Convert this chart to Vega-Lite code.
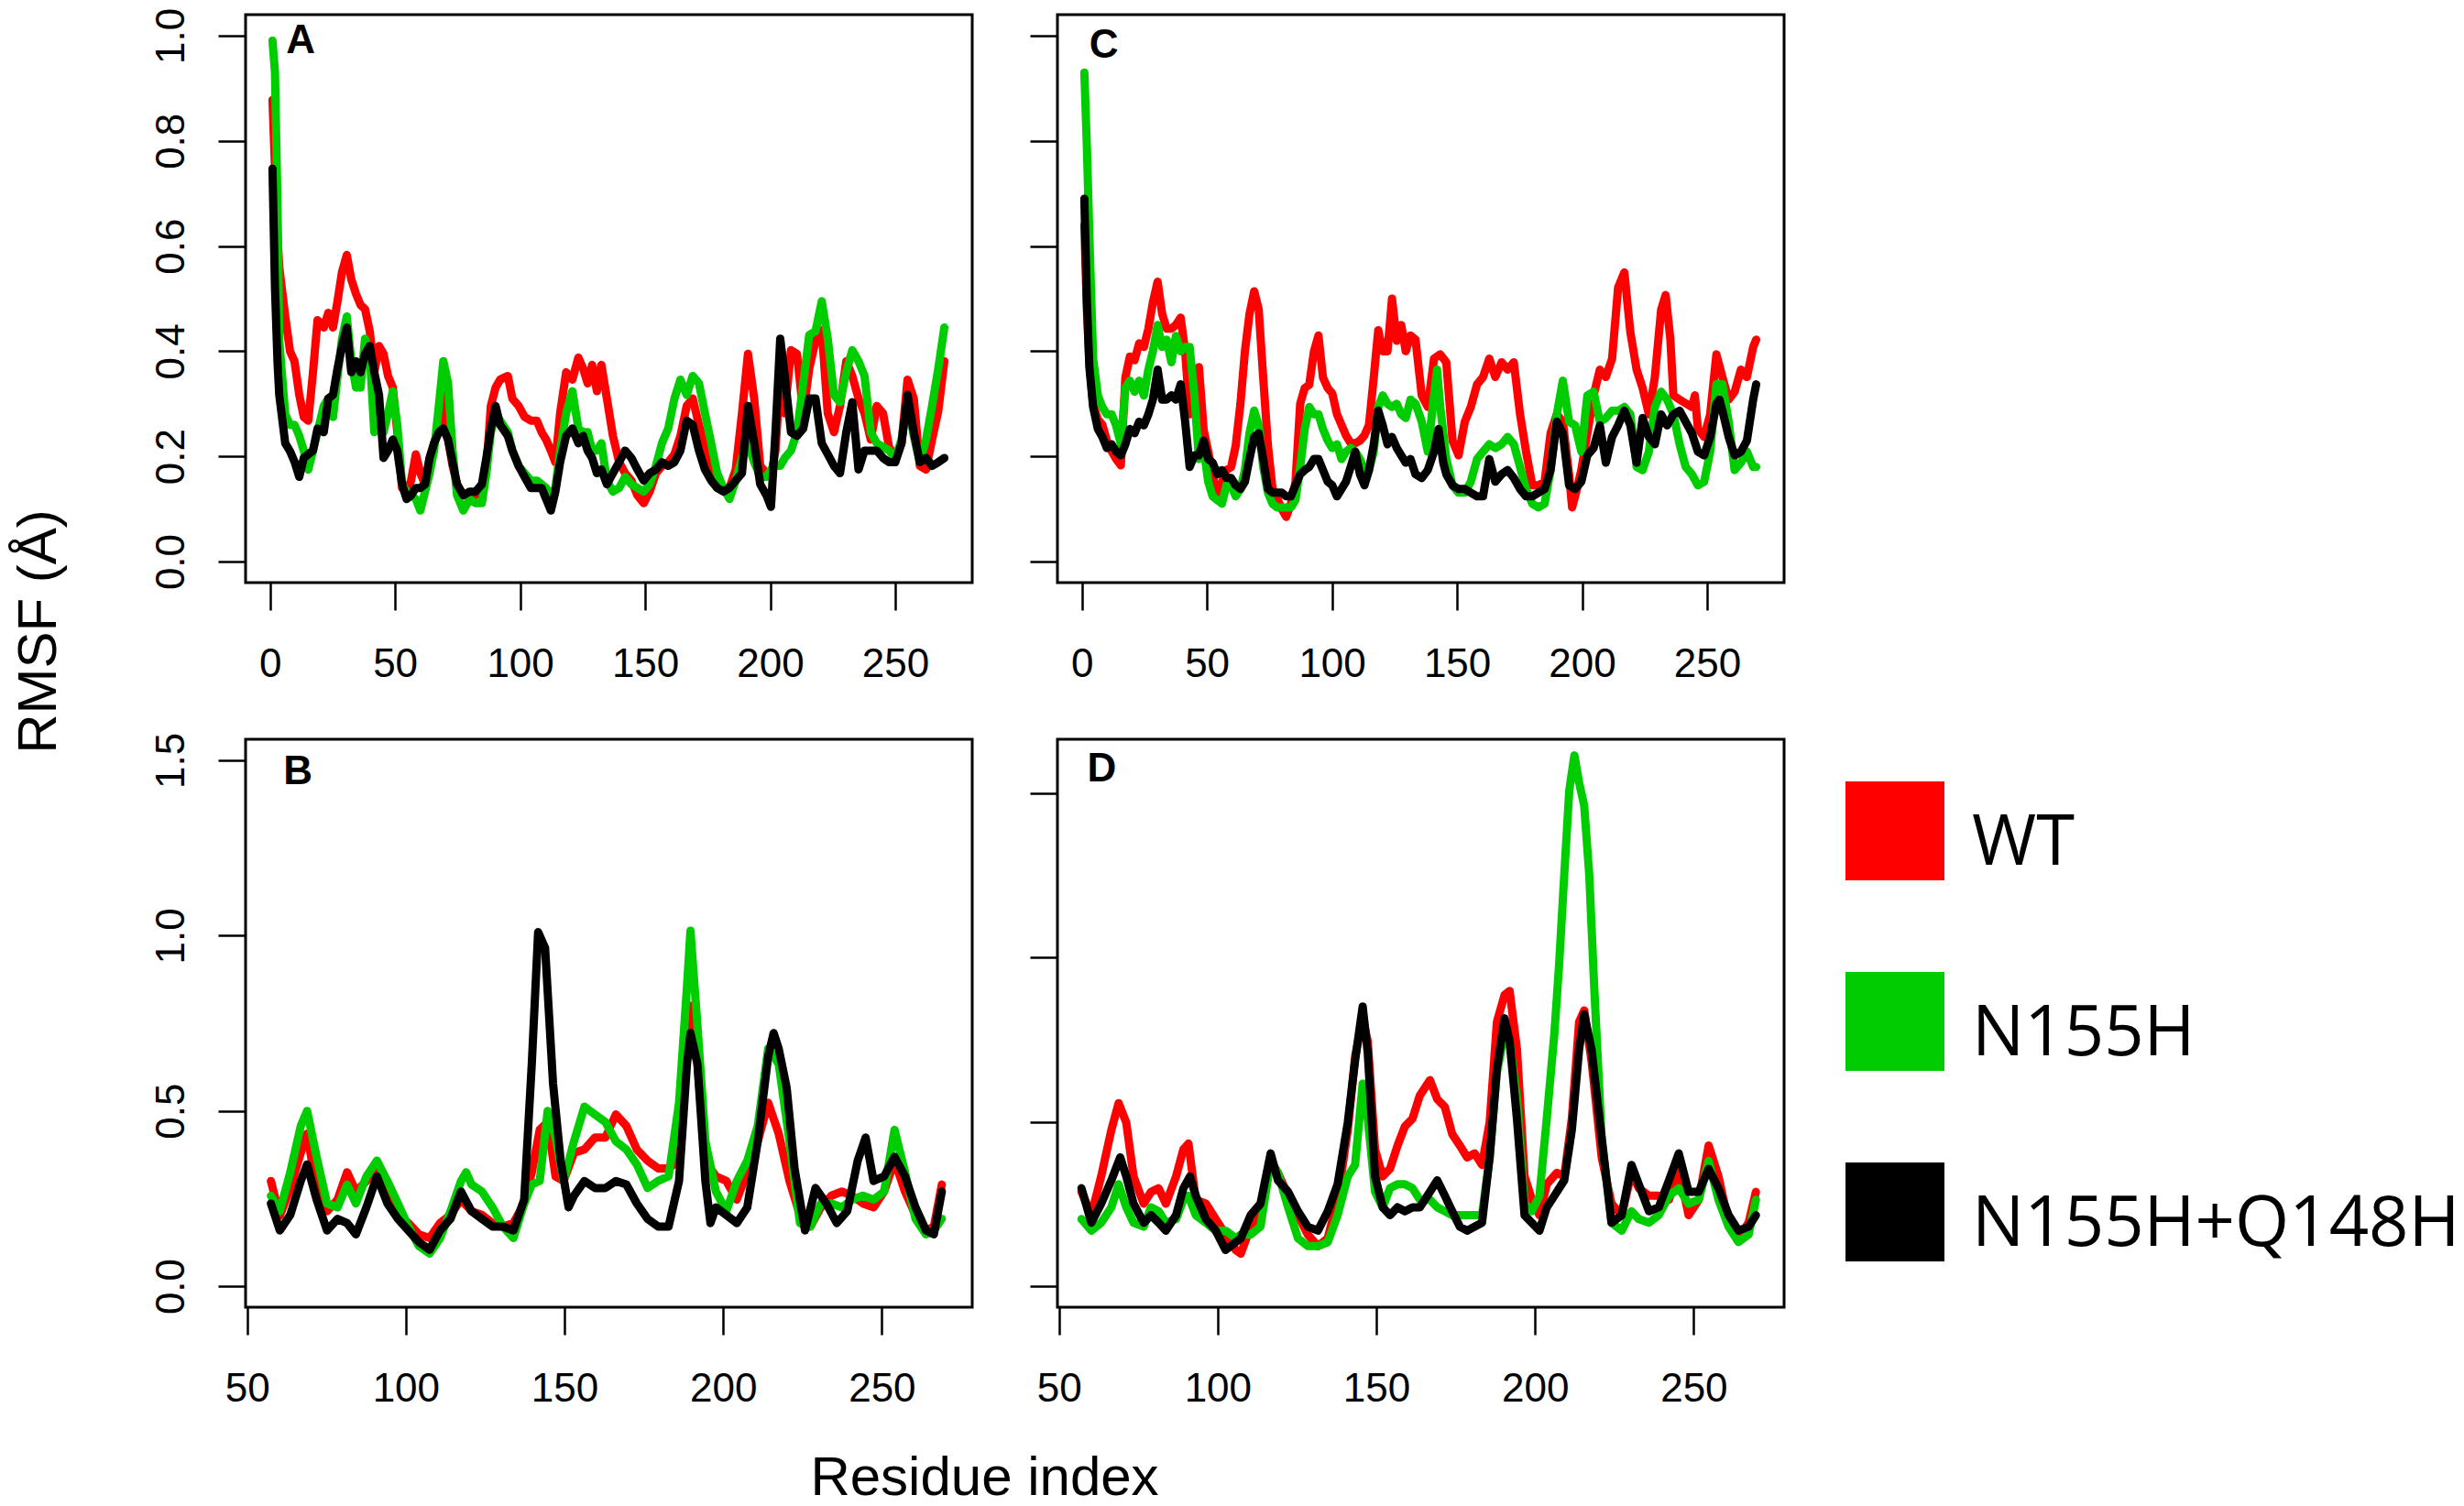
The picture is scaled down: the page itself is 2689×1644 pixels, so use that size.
{
  "$schema": "https://vega.github.io/schema/vega-lite/v6.json",
  "background": "white",
  "autosize": {"type": "pad"},
  "padding": {"left": 10, "top": 6, "right": 0, "bottom": 0},
  "datasets": {
    "A_WT": [
      {"x":1,"y":0.878},{"x":2,"y":0.75},{"x":3,"y":0.62},{"x":3.7,"y":0.56},{"x":6.1,"y":0.466},{"x":8,"y":0.40},{"x":9.8,"y":0.381},{"x":11.7,"y":0.317},{"x":13.5,"y":0.275},{"x":15.3,"y":0.268},{"x":17.2,"y":0.36},{"x":19,"y":0.459},{"x":21.5,"y":0.445},{"x":23.3,"y":0.473},{"x":25.2,"y":0.445},{"x":27,"y":0.495},{"x":28.8,"y":0.551},{"x":30.7,"y":0.583},{"x":32.5,"y":0.537},{"x":34.4,"y":0.509},{"x":36.2,"y":0.488},{"x":38,"y":0.48},{"x":39.9,"y":0.438},{"x":41.7,"y":0.36},{"x":43.6,"y":0.41},{"x":45.4,"y":0.395},{"x":47.2,"y":0.353},{"x":49.1,"y":0.331},{"x":50.9,"y":0.246},{"x":52.8,"y":0.14},{"x":54.6,"y":0.133},{"x":56.4,"y":0.154},{"x":58.3,"y":0.204},{"x":60.1,"y":0.168},{"x":62,"y":0.147},{"x":63.8,"y":0.197},{"x":65.6,"y":0.225},{"x":67.5,"y":0.253},{"x":69.3,"y":0.317},{"x":71.2,"y":0.232},{"x":73,"y":0.182},{"x":74.8,"y":0.147},{"x":77.3,"y":0.126},{"x":79.8,"y":0.126},{"x":82.2,"y":0.126},{"x":84.7,"y":0.133},{"x":86.5,"y":0.175},{"x":88.3,"y":0.296},{"x":90.2,"y":0.331},{"x":92,"y":0.346},{"x":95.1,"y":0.353},{"x":96.9,"y":0.31},{"x":99.4,"y":0.296},{"x":101.8,"y":0.275},{"x":104.3,"y":0.268},{"x":106.7,"y":0.268},{"x":108.6,"y":0.246},{"x":110.4,"y":0.232},{"x":112.3,"y":0.211},{"x":114.1,"y":0.189},{"x":116,"y":0.282},{"x":118.4,"y":0.36},{"x":120.9,"y":0.346},{"x":123.3,"y":0.388},{"x":125.2,"y":0.367},{"x":127,"y":0.339},{"x":128.8,"y":0.374},{"x":130.7,"y":0.324},{"x":132.5,"y":0.374},{"x":134.7,"y":0.31},{"x":137.1,"y":0.239},{"x":139.6,"y":0.189},{"x":142,"y":0.168},{"x":144.5,"y":0.154},{"x":146.9,"y":0.126},{"x":149.4,"y":0.111},{"x":151.8,"y":0.133},{"x":154.3,"y":0.168},{"x":156.7,"y":0.182},{"x":159.2,"y":0.189},{"x":161.7,"y":0.204},{"x":164.1,"y":0.239},{"x":166.6,"y":0.296},{"x":169,"y":0.31},{"x":171.5,"y":0.26},{"x":173.9,"y":0.218},{"x":176.4,"y":0.161},{"x":178.8,"y":0.14},{"x":181.3,"y":0.14},{"x":183.7,"y":0.14},{"x":186.2,"y":0.175},{"x":188.7,"y":0.282},{"x":191.1,"y":0.395},{"x":193.6,"y":0.31},{"x":196,"y":0.182},{"x":198.5,"y":0.168},{"x":200.3,"y":0.161},{"x":202.1,"y":0.211},{"x":204,"y":0.353},{"x":205.8,"y":0.282},{"x":208.3,"y":0.402},{"x":210.7,"y":0.395},{"x":213.2,"y":0.282},{"x":215.6,"y":0.367},{"x":218.1,"y":0.42},{"x":220.6,"y":0.44},{"x":223,"y":0.282},{"x":225.5,"y":0.246},{"x":227.9,"y":0.296},{"x":230.4,"y":0.381},{"x":232.8,"y":0.353},{"x":235.3,"y":0.31},{"x":237.7,"y":0.282},{"x":240.2,"y":0.232},{"x":242.6,"y":0.296},{"x":245.1,"y":0.282},{"x":247.5,"y":0.218},{"x":250,"y":0.197},{"x":252.5,"y":0.225},{"x":254.9,"y":0.346},{"x":257.4,"y":0.31},{"x":259.8,"y":0.182},{"x":262.3,"y":0.175},{"x":264.7,"y":0.232},{"x":267.2,"y":0.287},{"x":269.6,"y":0.381}
    ],
    "A_N": [
      {"x":1,"y":0.991},{"x":2,"y":0.93},{"x":3,"y":0.68},{"x":3.7,"y":0.42},{"x":6.1,"y":0.28},{"x":8,"y":0.26},{"x":9.8,"y":0.26},{"x":11.7,"y":0.239},{"x":13.5,"y":0.211},{"x":15.3,"y":0.175},{"x":17.2,"y":0.211},{"x":19,"y":0.246},{"x":21.5,"y":0.296},{"x":23.3,"y":0.31},{"x":25.2,"y":0.275},{"x":27,"y":0.353},{"x":28.8,"y":0.424},{"x":30.7,"y":0.466},{"x":32.5,"y":0.381},{"x":34.4,"y":0.331},{"x":36.2,"y":0.331},{"x":38,"y":0.424},{"x":39.9,"y":0.395},{"x":41.7,"y":0.246},{"x":43.6,"y":0.26},{"x":45.4,"y":0.246},{"x":47.2,"y":0.282},{"x":49.1,"y":0.324},{"x":50.9,"y":0.26},{"x":52.8,"y":0.147},{"x":54.6,"y":0.133},{"x":56.4,"y":0.126},{"x":58.3,"y":0.119},{"x":60.1,"y":0.097},{"x":62,"y":0.133},{"x":63.8,"y":0.168},{"x":65.6,"y":0.211},{"x":67.5,"y":0.296},{"x":69.3,"y":0.381},{"x":71.2,"y":0.339},{"x":73,"y":0.211},{"x":74.8,"y":0.126},{"x":77.3,"y":0.097},{"x":79.8,"y":0.119},{"x":82.2,"y":0.111},{"x":84.7,"y":0.111},{"x":86.5,"y":0.168},{"x":88.3,"y":0.246},{"x":90.2,"y":0.282},{"x":92,"y":0.268},{"x":95.1,"y":0.246},{"x":96.9,"y":0.211},{"x":99.4,"y":0.182},{"x":101.8,"y":0.168},{"x":104.3,"y":0.154},{"x":106.7,"y":0.154},{"x":108.6,"y":0.147},{"x":110.4,"y":0.14},{"x":112.3,"y":0.126},{"x":114.1,"y":0.14},{"x":116,"y":0.211},{"x":118.4,"y":0.282},{"x":120.9,"y":0.324},{"x":123.3,"y":0.253},{"x":125.2,"y":0.246},{"x":127,"y":0.246},{"x":128.8,"y":0.211},{"x":130.7,"y":0.211},{"x":132.5,"y":0.225},{"x":134.7,"y":0.154},{"x":137.1,"y":0.133},{"x":139.6,"y":0.14},{"x":142,"y":0.161},{"x":144.5,"y":0.147},{"x":146.9,"y":0.14},{"x":149.4,"y":0.133},{"x":151.8,"y":0.147},{"x":154.3,"y":0.182},{"x":156.7,"y":0.225},{"x":159.2,"y":0.253},{"x":161.7,"y":0.31},{"x":164.1,"y":0.346},{"x":166.6,"y":0.317},{"x":169,"y":0.353},{"x":171.5,"y":0.339},{"x":173.9,"y":0.282},{"x":176.4,"y":0.225},{"x":178.8,"y":0.168},{"x":181.3,"y":0.14},{"x":183.7,"y":0.119},{"x":186.2,"y":0.154},{"x":188.7,"y":0.197},{"x":191.1,"y":0.225},{"x":193.6,"y":0.189},{"x":196,"y":0.161},{"x":198.5,"y":0.161},{"x":200.3,"y":0.175},{"x":202.1,"y":0.182},{"x":204,"y":0.182},{"x":205.8,"y":0.197},{"x":208.3,"y":0.211},{"x":210.7,"y":0.246},{"x":213.2,"y":0.339},{"x":215.6,"y":0.431},{"x":218.1,"y":0.438},{"x":220.6,"y":0.495},{"x":223,"y":0.424},{"x":225.5,"y":0.317},{"x":227.9,"y":0.303},{"x":230.4,"y":0.36},{"x":232.8,"y":0.402},{"x":235.3,"y":0.381},{"x":237.7,"y":0.353},{"x":240.2,"y":0.246},{"x":242.6,"y":0.225},{"x":245.1,"y":0.218},{"x":247.5,"y":0.211},{"x":250,"y":0.197},{"x":252.5,"y":0.232},{"x":254.9,"y":0.303},{"x":257.4,"y":0.239},{"x":259.8,"y":0.189},{"x":262.3,"y":0.232},{"x":264.7,"y":0.296},{"x":267.2,"y":0.367},{"x":269.6,"y":0.445}
    ],
    "A_Q": [
      {"x":1,"y":0.747},{"x":2,"y":0.52},{"x":3,"y":0.38},{"x":3.7,"y":0.317},{"x":6.1,"y":0.225},{"x":8,"y":0.21},{"x":9.8,"y":0.19},{"x":11.7,"y":0.161},{"x":13.5,"y":0.197},{"x":15.3,"y":0.204},{"x":17.2,"y":0.211},{"x":19,"y":0.253},{"x":21.5,"y":0.246},{"x":23.3,"y":0.31},{"x":25.2,"y":0.317},{"x":27,"y":0.367},{"x":28.8,"y":0.41},{"x":30.7,"y":0.445},{"x":32.5,"y":0.36},{"x":34.4,"y":0.381},{"x":36.2,"y":0.36},{"x":38,"y":0.395},{"x":39.9,"y":0.41},{"x":41.7,"y":0.36},{"x":43.6,"y":0.317},{"x":45.4,"y":0.197},{"x":47.2,"y":0.211},{"x":49.1,"y":0.232},{"x":50.9,"y":0.211},{"x":52.8,"y":0.147},{"x":54.6,"y":0.119},{"x":56.4,"y":0.126},{"x":58.3,"y":0.14},{"x":60.1,"y":0.14},{"x":62,"y":0.147},{"x":63.8,"y":0.197},{"x":65.6,"y":0.225},{"x":67.5,"y":0.246},{"x":69.3,"y":0.253},{"x":71.2,"y":0.232},{"x":73,"y":0.189},{"x":74.8,"y":0.147},{"x":77.3,"y":0.126},{"x":79.8,"y":0.133},{"x":82.2,"y":0.133},{"x":84.7,"y":0.147},{"x":86.5,"y":0.197},{"x":88.3,"y":0.253},{"x":90.2,"y":0.296},{"x":92,"y":0.26},{"x":95.1,"y":0.239},{"x":96.9,"y":0.211},{"x":99.4,"y":0.182},{"x":101.8,"y":0.161},{"x":104.3,"y":0.14},{"x":106.7,"y":0.14},{"x":108.6,"y":0.14},{"x":110.4,"y":0.119},{"x":112.3,"y":0.097},{"x":114.1,"y":0.133},{"x":116,"y":0.189},{"x":118.4,"y":0.239},{"x":120.9,"y":0.253},{"x":123.3,"y":0.225},{"x":125.2,"y":0.239},{"x":127,"y":0.211},{"x":128.8,"y":0.197},{"x":130.7,"y":0.168},{"x":132.5,"y":0.175},{"x":134.7,"y":0.147},{"x":137.1,"y":0.168},{"x":139.6,"y":0.189},{"x":142,"y":0.211},{"x":144.5,"y":0.197},{"x":146.9,"y":0.175},{"x":149.4,"y":0.154},{"x":151.8,"y":0.168},{"x":154.3,"y":0.175},{"x":156.7,"y":0.189},{"x":159.2,"y":0.182},{"x":161.7,"y":0.189},{"x":164.1,"y":0.211},{"x":166.6,"y":0.268},{"x":169,"y":0.26},{"x":171.5,"y":0.211},{"x":173.9,"y":0.175},{"x":176.4,"y":0.154},{"x":178.8,"y":0.14},{"x":181.3,"y":0.133},{"x":183.7,"y":0.14},{"x":186.2,"y":0.154},{"x":188.7,"y":0.168},{"x":191.1,"y":0.296},{"x":193.6,"y":0.225},{"x":196,"y":0.147},{"x":198.5,"y":0.126},{"x":200.3,"y":0.104},{"x":202.1,"y":0.246},{"x":204,"y":0.424},{"x":205.8,"y":0.353},{"x":208.3,"y":0.246},{"x":210.7,"y":0.239},{"x":213.2,"y":0.253},{"x":215.6,"y":0.31},{"x":218.1,"y":0.31},{"x":220.6,"y":0.225},{"x":223,"y":0.204},{"x":225.5,"y":0.182},{"x":227.9,"y":0.168},{"x":230.4,"y":0.246},{"x":232.8,"y":0.303},{"x":235.3,"y":0.175},{"x":237.7,"y":0.211},{"x":240.2,"y":0.211},{"x":242.6,"y":0.211},{"x":245.1,"y":0.197},{"x":247.5,"y":0.189},{"x":250,"y":0.189},{"x":252.5,"y":0.225},{"x":254.9,"y":0.317},{"x":257.4,"y":0.246},{"x":259.8,"y":0.189},{"x":262.3,"y":0.197},{"x":264.7,"y":0.182},{"x":267.2,"y":0.189},{"x":269.6,"y":0.197}
    ],
    "C_WT": [
      {"x":1,"y":0.64},{"x":2,"y":0.48},{"x":3,"y":0.38},{"x":4.5,"y":0.30},{"x":6.4,"y":0.27},{"x":8.2,"y":0.26},{"x":10,"y":0.23},{"x":11.9,"y":0.21},{"x":13.7,"y":0.195},{"x":15.6,"y":0.183},{"x":17.4,"y":0.35},{"x":19.2,"y":0.39},{"x":21.1,"y":0.383},{"x":22.9,"y":0.415},{"x":24.8,"y":0.408},{"x":26.6,"y":0.443},{"x":28.4,"y":0.493},{"x":30.3,"y":0.532},{"x":32.1,"y":0.471},{"x":33.9,"y":0.443},{"x":35.8,"y":0.443},{"x":37.6,"y":0.45},{"x":39.5,"y":0.464},{"x":41.3,"y":0.40},{"x":43.1,"y":0.28},{"x":45,"y":0.36},{"x":46.8,"y":0.37},{"x":48.7,"y":0.25},{"x":50.5,"y":0.21},{"x":52.3,"y":0.166},{"x":54.2,"y":0.117},{"x":56,"y":0.15},{"x":57.8,"y":0.174},{"x":59.7,"y":0.18},{"x":61.5,"y":0.22},{"x":63.4,"y":0.30},{"x":65.2,"y":0.40},{"x":67,"y":0.47},{"x":68.9,"y":0.514},{"x":70.7,"y":0.48},{"x":72.5,"y":0.35},{"x":74.4,"y":0.22},{"x":76.2,"y":0.14},{"x":78.1,"y":0.12},{"x":79.9,"y":0.10},{"x":81.7,"y":0.085},{"x":83.6,"y":0.11},{"x":85.4,"y":0.15},{"x":87.3,"y":0.30},{"x":89.1,"y":0.33},{"x":90.9,"y":0.336},{"x":92.8,"y":0.40},{"x":94.6,"y":0.43},{"x":96.4,"y":0.35},{"x":98.3,"y":0.33},{"x":100.1,"y":0.32},{"x":102,"y":0.28},{"x":103.8,"y":0.26},{"x":105.6,"y":0.24},{"x":107.5,"y":0.225},{"x":109.3,"y":0.225},{"x":111.2,"y":0.23},{"x":113,"y":0.24},{"x":114.8,"y":0.26},{"x":116.7,"y":0.35},{"x":118.5,"y":0.44},{"x":120.3,"y":0.40},{"x":122.2,"y":0.40},{"x":124,"y":0.50},{"x":125.9,"y":0.42},{"x":127.7,"y":0.45},{"x":129.5,"y":0.40},{"x":131.4,"y":0.43},{"x":133.4,"y":0.422},{"x":135.9,"y":0.316},{"x":138.3,"y":0.294},{"x":140.8,"y":0.386},{"x":143.3,"y":0.394},{"x":145.7,"y":0.379},{"x":148.2,"y":0.23},{"x":150.6,"y":0.202},{"x":153.1,"y":0.266},{"x":155.5,"y":0.294},{"x":158,"y":0.337},{"x":160.4,"y":0.351},{"x":162.9,"y":0.386},{"x":165.3,"y":0.351},{"x":167.8,"y":0.379},{"x":170.2,"y":0.365},{"x":172.7,"y":0.379},{"x":175.2,"y":0.28},{"x":177.6,"y":0.209},{"x":180.1,"y":0.145},{"x":182.5,"y":0.145},{"x":185,"y":0.152},{"x":187.4,"y":0.244},{"x":189.9,"y":0.28},{"x":192.3,"y":0.266},{"x":194.8,"y":0.166},{"x":196,"y":0.103},{"x":197.2,"y":0.124},{"x":199.7,"y":0.174},{"x":202.1,"y":0.244},{"x":204.6,"y":0.316},{"x":207.1,"y":0.365},{"x":209.5,"y":0.351},{"x":212,"y":0.386},{"x":214.4,"y":0.521},{"x":216.9,"y":0.55},{"x":219.3,"y":0.436},{"x":221.8,"y":0.365},{"x":224.2,"y":0.33},{"x":226.7,"y":0.28},{"x":229.1,"y":0.351},{"x":231.6,"y":0.479},{"x":233.4,"y":0.507},{"x":235.3,"y":0.422},{"x":236.5,"y":0.316},{"x":239,"y":0.308},{"x":241.4,"y":0.301},{"x":243.9,"y":0.294},{"x":245.1,"y":0.316},{"x":246.3,"y":0.252},{"x":248.8,"y":0.237},{"x":251.2,"y":0.28},{"x":253.7,"y":0.394},{"x":256.1,"y":0.351},{"x":258.6,"y":0.308},{"x":261,"y":0.323},{"x":263.5,"y":0.365},{"x":265.9,"y":0.351},{"x":268.4,"y":0.408},{"x":269.6,"y":0.422}
    ],
    "C_N": [
      {"x":1,"y":0.93},{"x":2,"y":0.79},{"x":3,"y":0.62},{"x":4.5,"y":0.386},{"x":6.4,"y":0.316},{"x":8.2,"y":0.294},{"x":10,"y":0.28},{"x":11.9,"y":0.28},{"x":13.7,"y":0.259},{"x":15.6,"y":0.223},{"x":17.4,"y":0.33},{"x":19.2,"y":0.344},{"x":21.1,"y":0.323},{"x":22.9,"y":0.344},{"x":24.8,"y":0.316},{"x":26.6,"y":0.365},{"x":28.4,"y":0.40},{"x":30.3,"y":0.45},{"x":32.1,"y":0.408},{"x":33.9,"y":0.422},{"x":35.8,"y":0.379},{"x":37.6,"y":0.429},{"x":39.5,"y":0.40},{"x":41.3,"y":0.408},{"x":43.1,"y":0.408},{"x":45,"y":0.316},{"x":46.8,"y":0.195},{"x":48.7,"y":0.216},{"x":50.5,"y":0.152},{"x":52.3,"y":0.124},{"x":54.2,"y":0.117},{"x":56,"y":0.11},{"x":57.8,"y":0.145},{"x":59.7,"y":0.145},{"x":61.5,"y":0.124},{"x":63.4,"y":0.138},{"x":65.2,"y":0.174},{"x":67,"y":0.244},{"x":68.9,"y":0.287},{"x":70.7,"y":0.259},{"x":72.5,"y":0.18},{"x":74.4,"y":0.131},{"x":76.2,"y":0.11},{"x":78.1,"y":0.103},{"x":79.9,"y":0.103},{"x":81.7,"y":0.103},{"x":83.6,"y":0.103},{"x":85.4,"y":0.117},{"x":87.3,"y":0.18},{"x":89.1,"y":0.252},{"x":90.9,"y":0.294},{"x":92.8,"y":0.28},{"x":94.6,"y":0.28},{"x":96.4,"y":0.252},{"x":98.3,"y":0.23},{"x":100.1,"y":0.216},{"x":102,"y":0.223},{"x":103.8,"y":0.195},{"x":105.6,"y":0.209},{"x":107.5,"y":0.216},{"x":109.3,"y":0.209},{"x":111.2,"y":0.195},{"x":113,"y":0.174},{"x":114.8,"y":0.174},{"x":116.7,"y":0.209},{"x":118.5,"y":0.294},{"x":120.3,"y":0.316},{"x":122.2,"y":0.30},{"x":124,"y":0.294},{"x":125.9,"y":0.30},{"x":127.7,"y":0.28},{"x":129.5,"y":0.273},{"x":131.4,"y":0.308},{"x":133.4,"y":0.30},{"x":135.9,"y":0.266},{"x":138.3,"y":0.209},{"x":140.8,"y":0.316},{"x":142,"y":0.365},{"x":143.3,"y":0.294},{"x":145.7,"y":0.195},{"x":148.2,"y":0.145},{"x":150.6,"y":0.131},{"x":153.1,"y":0.131},{"x":155.5,"y":0.152},{"x":158,"y":0.195},{"x":160.4,"y":0.209},{"x":162.9,"y":0.223},{"x":165.3,"y":0.216},{"x":167.8,"y":0.223},{"x":170.2,"y":0.237},{"x":172.7,"y":0.223},{"x":175.2,"y":0.18},{"x":177.6,"y":0.138},{"x":180.1,"y":0.11},{"x":182.5,"y":0.103},{"x":185,"y":0.11},{"x":187.4,"y":0.174},{"x":189.9,"y":0.28},{"x":192.3,"y":0.344},{"x":194.8,"y":0.266},{"x":197.2,"y":0.259},{"x":199.7,"y":0.209},{"x":202.1,"y":0.316},{"x":204.6,"y":0.323},{"x":207.1,"y":0.266},{"x":209.5,"y":0.273},{"x":212,"y":0.287},{"x":214.4,"y":0.287},{"x":216.9,"y":0.294},{"x":219.3,"y":0.28},{"x":221.8,"y":0.18},{"x":224.2,"y":0.174},{"x":226.7,"y":0.209},{"x":229.1,"y":0.294},{"x":231.6,"y":0.323},{"x":234,"y":0.308},{"x":236.5,"y":0.28},{"x":239,"y":0.223},{"x":241.4,"y":0.18},{"x":243.9,"y":0.166},{"x":246.3,"y":0.145},{"x":248.8,"y":0.152},{"x":251.2,"y":0.209},{"x":253.7,"y":0.337},{"x":256.1,"y":0.337},{"x":258.6,"y":0.266},{"x":261,"y":0.174},{"x":263.5,"y":0.188},{"x":265.9,"y":0.209},{"x":268.4,"y":0.18},{"x":269.6,"y":0.18}
    ],
    "C_Q": [
      {"x":1,"y":0.69},{"x":2,"y":0.50},{"x":3,"y":0.37},{"x":4.5,"y":0.294},{"x":6.4,"y":0.252},{"x":8.2,"y":0.237},{"x":10,"y":0.216},{"x":11.9,"y":0.223},{"x":13.7,"y":0.209},{"x":15.6,"y":0.202},{"x":17.4,"y":0.223},{"x":19.2,"y":0.252},{"x":21.1,"y":0.244},{"x":22.9,"y":0.266},{"x":24.8,"y":0.259},{"x":26.6,"y":0.28},{"x":28.4,"y":0.308},{"x":30.3,"y":0.365},{"x":32.1,"y":0.308},{"x":33.9,"y":0.308},{"x":35.8,"y":0.316},{"x":37.6,"y":0.308},{"x":39.5,"y":0.337},{"x":41.3,"y":0.266},{"x":43.1,"y":0.18},{"x":45,"y":0.202},{"x":46.8,"y":0.202},{"x":48.7,"y":0.23},{"x":50.5,"y":0.195},{"x":52.3,"y":0.188},{"x":54.2,"y":0.166},{"x":56,"y":0.174},{"x":57.8,"y":0.159},{"x":59.7,"y":0.159},{"x":61.5,"y":0.145},{"x":63.4,"y":0.138},{"x":65.2,"y":0.152},{"x":67,"y":0.195},{"x":68.9,"y":0.237},{"x":70.7,"y":0.244},{"x":72.5,"y":0.195},{"x":74.4,"y":0.138},{"x":76.2,"y":0.131},{"x":78.1,"y":0.131},{"x":79.9,"y":0.131},{"x":81.7,"y":0.124},{"x":83.6,"y":0.124},{"x":85.4,"y":0.145},{"x":87.3,"y":0.166},{"x":89.1,"y":0.174},{"x":90.9,"y":0.18},{"x":92.8,"y":0.195},{"x":94.6,"y":0.195},{"x":96.4,"y":0.174},{"x":98.3,"y":0.152},{"x":100.1,"y":0.145},{"x":102,"y":0.124},{"x":103.8,"y":0.138},{"x":105.6,"y":0.152},{"x":107.5,"y":0.18},{"x":109.3,"y":0.209},{"x":111.2,"y":0.166},{"x":113,"y":0.145},{"x":114.8,"y":0.174},{"x":116.7,"y":0.223},{"x":118.5,"y":0.287},{"x":120.3,"y":0.259},{"x":122.2,"y":0.223},{"x":124,"y":0.237},{"x":125.9,"y":0.216},{"x":127.7,"y":0.202},{"x":129.5,"y":0.188},{"x":131.4,"y":0.195},{"x":133.4,"y":0.166},{"x":135.9,"y":0.159},{"x":138.3,"y":0.174},{"x":140.8,"y":0.209},{"x":142.6,"y":0.252},{"x":144.5,"y":0.188},{"x":145.7,"y":0.166},{"x":148.2,"y":0.145},{"x":150.6,"y":0.138},{"x":153.1,"y":0.138},{"x":155.5,"y":0.131},{"x":158,"y":0.124},{"x":160.4,"y":0.124},{"x":162.9,"y":0.195},{"x":165.3,"y":0.152},{"x":167.8,"y":0.166},{"x":170.2,"y":0.174},{"x":172.7,"y":0.159},{"x":175.2,"y":0.138},{"x":177.6,"y":0.124},{"x":180.1,"y":0.124},{"x":182.5,"y":0.131},{"x":185,"y":0.138},{"x":187.4,"y":0.174},{"x":189.9,"y":0.266},{"x":192.3,"y":0.244},{"x":194.8,"y":0.145},{"x":197.2,"y":0.138},{"x":199.7,"y":0.152},{"x":202.1,"y":0.202},{"x":204.6,"y":0.216},{"x":207.1,"y":0.259},{"x":209.5,"y":0.188},{"x":212,"y":0.237},{"x":214.4,"y":0.259},{"x":216.9,"y":0.287},{"x":219.3,"y":0.259},{"x":221.8,"y":0.188},{"x":224.2,"y":0.273},{"x":226.7,"y":0.237},{"x":229.1,"y":0.223},{"x":231.6,"y":0.28},{"x":234,"y":0.259},{"x":236.5,"y":0.28},{"x":239,"y":0.287},{"x":241.4,"y":0.266},{"x":243.9,"y":0.244},{"x":246.3,"y":0.209},{"x":248.8,"y":0.202},{"x":251.2,"y":0.237},{"x":253.7,"y":0.30},{"x":254.9,"y":0.308},{"x":256.1,"y":0.287},{"x":258.6,"y":0.237},{"x":261,"y":0.202},{"x":263.5,"y":0.209},{"x":265.9,"y":0.23},{"x":268.4,"y":0.308},{"x":269.6,"y":0.337}
    ],
    "B_WT": [
      {"x":57.5,"y":0.30},{"x":60.3,"y":0.20},{"x":63.6,"y":0.28},{"x":66.9,"y":0.38},{"x":68.9,"y":0.435},{"x":71.9,"y":0.28},{"x":75.2,"y":0.214},{"x":78.5,"y":0.247},{"x":81.5,"y":0.325},{"x":84.3,"y":0.27},{"x":87.6,"y":0.30},{"x":90.9,"y":0.336},{"x":94.2,"y":0.258},{"x":97.5,"y":0.203},{"x":100.8,"y":0.18},{"x":104.1,"y":0.148},{"x":107.5,"y":0.137},{"x":110.8,"y":0.18},{"x":114.1,"y":0.203},{"x":117.4,"y":0.247},{"x":120.7,"y":0.214},{"x":124,"y":0.203},{"x":127.3,"y":0.18},{"x":130.6,"y":0.17},{"x":133.9,"y":0.18},{"x":137.3,"y":0.236},{"x":139.7,"y":0.325},{"x":142.2,"y":0.446},{"x":144.7,"y":0.468},{"x":147.2,"y":0.313},{"x":149.7,"y":0.30},{"x":153,"y":0.38},{"x":156.3,"y":0.39},{"x":159.6,"y":0.424},{"x":162.9,"y":0.424},{"x":166.2,"y":0.49},{"x":169.5,"y":0.457},{"x":172.8,"y":0.39},{"x":176.2,"y":0.358},{"x":179.5,"y":0.336},{"x":182.8,"y":0.336},{"x":186.1,"y":0.358},{"x":188.6,"y":0.667},{"x":189.7,"y":0.80},{"x":191.9,"y":0.634},{"x":194.4,"y":0.358},{"x":197.7,"y":0.313},{"x":201,"y":0.30},{"x":204.3,"y":0.247},{"x":207.6,"y":0.325},{"x":210.9,"y":0.413},{"x":214.2,"y":0.523},{"x":217.5,"y":0.435},{"x":220.9,"y":0.30},{"x":224.2,"y":0.203},{"x":227.5,"y":0.17},{"x":230.8,"y":0.225},{"x":234.1,"y":0.258},{"x":237.4,"y":0.27},{"x":240.7,"y":0.258},{"x":244,"y":0.236},{"x":247.4,"y":0.225},{"x":250.7,"y":0.27},{"x":254,"y":0.358},{"x":257.3,"y":0.27},{"x":260.6,"y":0.203},{"x":263.9,"y":0.159},{"x":266.4,"y":0.17},{"x":268.9,"y":0.29}
    ],
    "B_N": [
      {"x":57.5,"y":0.258},{"x":60.3,"y":0.214},{"x":63.6,"y":0.325},{"x":66.9,"y":0.457},{"x":68.9,"y":0.50},{"x":71.9,"y":0.369},{"x":75.2,"y":0.236},{"x":78.5,"y":0.225},{"x":81.5,"y":0.29},{"x":84.3,"y":0.236},{"x":87.6,"y":0.313},{"x":90.9,"y":0.358},{"x":94.2,"y":0.30},{"x":97.5,"y":0.236},{"x":100.8,"y":0.17},{"x":104.1,"y":0.115},{"x":107.5,"y":0.093},{"x":110.8,"y":0.137},{"x":114.1,"y":0.214},{"x":117.4,"y":0.30},{"x":119,"y":0.325},{"x":120.7,"y":0.29},{"x":124,"y":0.27},{"x":127.3,"y":0.225},{"x":130.6,"y":0.17},{"x":133.9,"y":0.137},{"x":137.3,"y":0.236},{"x":139.7,"y":0.29},{"x":142.2,"y":0.30},{"x":144.7,"y":0.50},{"x":147.2,"y":0.424},{"x":149.7,"y":0.30},{"x":153,"y":0.413},{"x":156.3,"y":0.512},{"x":159.6,"y":0.49},{"x":162.9,"y":0.468},{"x":166.2,"y":0.413},{"x":169.5,"y":0.39},{"x":172.8,"y":0.347},{"x":176.2,"y":0.28},{"x":179.5,"y":0.30},{"x":182.8,"y":0.313},{"x":186.1,"y":0.523},{"x":188.6,"y":0.854},{"x":189.7,"y":1.014},{"x":191.9,"y":0.744},{"x":194.4,"y":0.413},{"x":197.7,"y":0.27},{"x":201,"y":0.214},{"x":204.3,"y":0.30},{"x":207.6,"y":0.358},{"x":210.9,"y":0.457},{"x":214.2,"y":0.678},{"x":217.5,"y":0.634},{"x":220.9,"y":0.413},{"x":224.2,"y":0.18},{"x":227.5,"y":0.17},{"x":230.8,"y":0.236},{"x":234.1,"y":0.236},{"x":237.4,"y":0.225},{"x":240.7,"y":0.247},{"x":244,"y":0.258},{"x":247.4,"y":0.247},{"x":250.7,"y":0.27},{"x":254,"y":0.446},{"x":257.3,"y":0.325},{"x":260.6,"y":0.192},{"x":263.9,"y":0.148},{"x":266.4,"y":0.159},{"x":268.9,"y":0.192}
    ],
    "B_Q": [
      {"x":57.5,"y":0.236},{"x":60.3,"y":0.159},{"x":63.6,"y":0.203},{"x":66.9,"y":0.30},{"x":68.9,"y":0.347},{"x":71.9,"y":0.247},{"x":75.2,"y":0.159},{"x":78.5,"y":0.192},{"x":81.5,"y":0.18},{"x":84.3,"y":0.148},{"x":87.6,"y":0.225},{"x":90.9,"y":0.313},{"x":94.2,"y":0.236},{"x":97.5,"y":0.192},{"x":100.8,"y":0.159},{"x":104.1,"y":0.126},{"x":107.5,"y":0.104},{"x":110.8,"y":0.159},{"x":114.1,"y":0.192},{"x":117.4,"y":0.27},{"x":120.7,"y":0.214},{"x":124,"y":0.192},{"x":127.3,"y":0.17},{"x":130.6,"y":0.17},{"x":133.9,"y":0.159},{"x":137.3,"y":0.247},{"x":139.7,"y":0.634},{"x":141.7,"y":1.01},{"x":143.9,"y":0.965},{"x":146.4,"y":0.578},{"x":148.8,"y":0.358},{"x":151.3,"y":0.225},{"x":153,"y":0.258},{"x":156.3,"y":0.30},{"x":159.6,"y":0.28},{"x":162.9,"y":0.28},{"x":166.2,"y":0.30},{"x":169.5,"y":0.29},{"x":172.8,"y":0.236},{"x":176.2,"y":0.192},{"x":179.5,"y":0.17},{"x":182.8,"y":0.17},{"x":186.1,"y":0.30},{"x":188.6,"y":0.634},{"x":189.7,"y":0.722},{"x":191.9,"y":0.634},{"x":194.4,"y":0.30},{"x":196,"y":0.18},{"x":197.7,"y":0.225},{"x":201,"y":0.203},{"x":204.3,"y":0.18},{"x":207.6,"y":0.225},{"x":210.9,"y":0.413},{"x":214.2,"y":0.656},{"x":215.9,"y":0.722},{"x":217.5,"y":0.678},{"x":220,"y":0.567},{"x":222.5,"y":0.336},{"x":225.8,"y":0.159},{"x":229.1,"y":0.28},{"x":232.5,"y":0.236},{"x":235.8,"y":0.18},{"x":239.1,"y":0.214},{"x":242.4,"y":0.358},{"x":244.9,"y":0.424},{"x":247.4,"y":0.30},{"x":250.7,"y":0.313},{"x":254,"y":0.369},{"x":257.3,"y":0.313},{"x":260.6,"y":0.225},{"x":263.9,"y":0.159},{"x":266.4,"y":0.148},{"x":268.9,"y":0.27}
    ],
    "D_WT": [
      {"x":57.1,"y":0.287},{"x":60.2,"y":0.216},{"x":63.3,"y":0.334},{"x":66.5,"y":0.475},{"x":68.8,"y":0.557},{"x":71.2,"y":0.498},{"x":73.5,"y":0.334},{"x":76.7,"y":0.251},{"x":79,"y":0.287},{"x":81.4,"y":0.298},{"x":83.7,"y":0.251},{"x":86.9,"y":0.334},{"x":89.2,"y":0.416},{"x":90.8,"y":0.434},{"x":93.1,"y":0.263},{"x":96.3,"y":0.251},{"x":99.4,"y":0.204},{"x":102.5,"y":0.157},{"x":105.7,"y":0.11},{"x":107.3,"y":0.099},{"x":110.4,"y":0.181},{"x":113.5,"y":0.228},{"x":116.7,"y":0.381},{"x":119,"y":0.345},{"x":122.2,"y":0.275},{"x":125.3,"y":0.216},{"x":128.4,"y":0.157},{"x":131.6,"y":0.122},{"x":134.7,"y":0.146},{"x":137.8,"y":0.263},{"x":141,"y":0.475},{"x":143.3,"y":0.698},{"x":145.7,"y":0.815},{"x":147.3,"y":0.745},{"x":149.6,"y":0.416},{"x":152,"y":0.334},{"x":154.3,"y":0.357},{"x":156.7,"y":0.428},{"x":159,"y":0.486},{"x":161.4,"y":0.51},{"x":163.7,"y":0.58},{"x":166.9,"y":0.627},{"x":169.2,"y":0.569},{"x":171.6,"y":0.545},{"x":173.9,"y":0.463},{"x":176.3,"y":0.428},{"x":178.6,"y":0.392},{"x":181,"y":0.404},{"x":183.3,"y":0.369},{"x":185.7,"y":0.498},{"x":188,"y":0.804},{"x":190.4,"y":0.886},{"x":192,"y":0.898},{"x":194.3,"y":0.721},{"x":196.7,"y":0.334},{"x":199,"y":0.263},{"x":201.4,"y":0.216},{"x":203.7,"y":0.31},{"x":206.9,"y":0.345},{"x":209.2,"y":0.334},{"x":211.6,"y":0.51},{"x":213.9,"y":0.804},{"x":215.5,"y":0.839},{"x":217.8,"y":0.686},{"x":221,"y":0.392},{"x":224.1,"y":0.251},{"x":227.3,"y":0.216},{"x":230.4,"y":0.345},{"x":232.7,"y":0.298},{"x":235.9,"y":0.275},{"x":239,"y":0.275},{"x":242.2,"y":0.263},{"x":245.3,"y":0.357},{"x":248.4,"y":0.216},{"x":251.6,"y":0.263},{"x":254.7,"y":0.428},{"x":257.8,"y":0.334},{"x":261,"y":0.193},{"x":264.1,"y":0.146},{"x":267.3,"y":0.193},{"x":269.6,"y":0.287}
    ],
    "D_N": [
      {"x":57.1,"y":0.204},{"x":60.2,"y":0.169},{"x":63.3,"y":0.193},{"x":66.5,"y":0.24},{"x":68.8,"y":0.31},{"x":71.2,"y":0.24},{"x":73.5,"y":0.193},{"x":76.7,"y":0.181},{"x":79,"y":0.24},{"x":81.4,"y":0.228},{"x":83.7,"y":0.193},{"x":86.9,"y":0.204},{"x":89.2,"y":0.263},{"x":90.8,"y":0.275},{"x":93.1,"y":0.216},{"x":96.3,"y":0.193},{"x":99.4,"y":0.169},{"x":102.5,"y":0.169},{"x":105.7,"y":0.146},{"x":107.3,"y":0.157},{"x":110.4,"y":0.157},{"x":113.5,"y":0.181},{"x":116.7,"y":0.381},{"x":119,"y":0.345},{"x":122.2,"y":0.24},{"x":125.3,"y":0.146},{"x":128.4,"y":0.122},{"x":131.6,"y":0.122},{"x":134.7,"y":0.134},{"x":137.8,"y":0.216},{"x":141,"y":0.334},{"x":143.3,"y":0.369},{"x":145.7,"y":0.616},{"x":147.3,"y":0.51},{"x":149.6,"y":0.287},{"x":152,"y":0.24},{"x":154.3,"y":0.298},{"x":156.7,"y":0.31},{"x":159,"y":0.31},{"x":161.4,"y":0.298},{"x":163.7,"y":0.263},{"x":166.9,"y":0.263},{"x":169.2,"y":0.24},{"x":171.6,"y":0.228},{"x":173.9,"y":0.216},{"x":176.3,"y":0.216},{"x":178.6,"y":0.216},{"x":181,"y":0.216},{"x":183.3,"y":0.216},{"x":185.7,"y":0.392},{"x":188,"y":0.651},{"x":190.4,"y":0.769},{"x":192,"y":0.745},{"x":194.3,"y":0.569},{"x":196.7,"y":0.251},{"x":199,"y":0.228},{"x":201.4,"y":0.275},{"x":203.7,"y":0.51},{"x":206.1,"y":0.769},{"x":207.6,"y":0.98},{"x":209.2,"y":1.25},{"x":210.8,"y":1.509},{"x":212.4,"y":1.615},{"x":213.9,"y":1.532},{"x":215.5,"y":1.462},{"x":217.1,"y":1.25},{"x":218.6,"y":0.921},{"x":221,"y":0.451},{"x":224.1,"y":0.193},{"x":227.3,"y":0.169},{"x":230.4,"y":0.228},{"x":232.7,"y":0.204},{"x":235.9,"y":0.193},{"x":239,"y":0.216},{"x":242.2,"y":0.275},{"x":245.3,"y":0.298},{"x":248.4,"y":0.251},{"x":251.6,"y":0.263},{"x":254.7,"y":0.381},{"x":257.8,"y":0.263},{"x":261,"y":0.181},{"x":264.1,"y":0.134},{"x":267.3,"y":0.157},{"x":269.6,"y":0.263}
    ],
    "D_Q": [
      {"x":57.1,"y":0.298},{"x":60.2,"y":0.193},{"x":63.3,"y":0.251},{"x":66.5,"y":0.322},{"x":69.3,"y":0.392},{"x":71.2,"y":0.334},{"x":73.5,"y":0.251},{"x":76.7,"y":0.193},{"x":79,"y":0.216},{"x":81.4,"y":0.193},{"x":83.7,"y":0.169},{"x":86.9,"y":0.216},{"x":89.2,"y":0.298},{"x":91.3,"y":0.334},{"x":93.1,"y":0.275},{"x":96.3,"y":0.204},{"x":99.4,"y":0.169},{"x":102.5,"y":0.11},{"x":105.7,"y":0.134},{"x":107.3,"y":0.146},{"x":110.4,"y":0.216},{"x":113.5,"y":0.251},{"x":116.7,"y":0.404},{"x":119,"y":0.322},{"x":122.2,"y":0.287},{"x":125.3,"y":0.228},{"x":128.4,"y":0.181},{"x":131.6,"y":0.169},{"x":134.7,"y":0.228},{"x":137.8,"y":0.31},{"x":141,"y":0.498},{"x":143.3,"y":0.686},{"x":145.7,"y":0.851},{"x":147.3,"y":0.71},{"x":149.6,"y":0.334},{"x":152,"y":0.24},{"x":154.3,"y":0.216},{"x":156.7,"y":0.24},{"x":159,"y":0.228},{"x":161.4,"y":0.24},{"x":163.7,"y":0.24},{"x":166.9,"y":0.287},{"x":169.2,"y":0.322},{"x":171.6,"y":0.275},{"x":173.9,"y":0.228},{"x":176.3,"y":0.181},{"x":178.6,"y":0.169},{"x":181,"y":0.181},{"x":183.3,"y":0.193},{"x":185.7,"y":0.392},{"x":188,"y":0.663},{"x":190.4,"y":0.815},{"x":192,"y":0.745},{"x":194.3,"y":0.51},{"x":196.7,"y":0.216},{"x":199,"y":0.193},{"x":201.4,"y":0.169},{"x":203.7,"y":0.24},{"x":206.1,"y":0.275},{"x":209.2,"y":0.322},{"x":211.6,"y":0.475},{"x":213.9,"y":0.721},{"x":215.5,"y":0.827},{"x":217.8,"y":0.721},{"x":221,"y":0.451},{"x":224.1,"y":0.193},{"x":227.3,"y":0.216},{"x":230.4,"y":0.369},{"x":232.7,"y":0.31},{"x":235.9,"y":0.228},{"x":239,"y":0.24},{"x":242.2,"y":0.322},{"x":245.3,"y":0.404},{"x":248.4,"y":0.287},{"x":251.6,"y":0.287},{"x":254.7,"y":0.357},{"x":257.8,"y":0.298},{"x":261,"y":0.216},{"x":264.1,"y":0.169},{"x":267.3,"y":0.181},{"x":269.6,"y":0.216}
    ]
  },
  "columns": 2,
  "spacing": {"row": 171, "column": 93},
  "bounds": "flush",
  "concat": [
    {
      "width": 793, "height": 620,
      "encoding": {
        "x": {"field": "x", "type": "quantitative", "scale": {"domain": [-9.76, 280.76], "nice": false, "zero": false},
              "axis": {"title": null, "values": [0, 50, 100, 150, 200, 250]}},
        "y": {"field": "y", "type": "quantitative", "scale": {"domain": [-0.04, 1.04], "nice": false, "zero": false},
              "axis": {"values": [0, 0.2, 0.4, 0.6, 0.8, 1.0], "format": ".1f", "title": "RMSF (Å)",
                       "titleAngle": 270, "titleX": -208, "titleY": 673, "titleBaseline": "alphabetic", "titleAlign": "center"}}
      },
      "layer": [
        {"data": {"name": "A_WT"}, "mark": {"type": "line", "strokeWidth": 9, "strokeJoin": "round", "strokeCap": "round"},
         "encoding": {"color": {"datum": "WT", "type": "nominal",
           "scale": {"domain": ["WT", "N155H", "N155H+Q148H"], "range": ["#FF0000", "#00CD00", "#000000"]},
           "legend": {"orient": "none", "legendX": 1746, "legendY": 837, "title": null, "direction": "vertical",
             "symbolType": "square", "symbolSize": 11025, "symbolStrokeWidth": 3, "symbolStrokeColor": "black",
             "labelFont": "Open Sans", "labelFontSize": 76, "labelColor": "black", "labelLimit": 1000,
             "labelOffset": 30, "rowPadding": 90, "padding": 0,
             "encode": {"symbols": {"update": {"fill": {"scale": "color", "field": "value"}, "stroke": {"value": "black"}, "strokeWidth": {"value": 3}, "opacity": {"value": 1}, "fillOpacity": {"value": 1}}},
                        "labels": {"update": {"dy": {"value": 14}}}}}}}},
        {"data": {"name": "A_N"}, "mark": {"type": "line", "strokeWidth": 9, "strokeJoin": "round", "strokeCap": "round"},
         "encoding": {"color": {"datum": "N155H", "type": "nominal", "scale": {"domain": ["WT", "N155H", "N155H+Q148H"], "range": ["#FF0000", "#00CD00", "#000000"]}}}},
        {"data": {"name": "A_Q"}, "mark": {"type": "line", "strokeWidth": 9, "strokeJoin": "round", "strokeCap": "round"},
         "encoding": {"color": {"datum": "N155H+Q148H", "type": "nominal", "scale": {"domain": ["WT", "N155H", "N155H+Q148H"], "range": ["#FF0000", "#00CD00", "#000000"]}}}},
        {"data": {"values": [{"x": 12.3, "y": 0.99, "t": "A"}]},
         "mark": {"type": "text", "font": "Liberation Sans", "fontWeight": "bold", "fontSize": 44, "align": "center", "baseline": "middle", "color": "black"},
         "encoding": {"text": {"field": "t"}}}
      ]
    },
    {
      "width": 793, "height": 620,
      "encoding": {
        "x": {"field": "x", "type": "quantitative", "scale": {"domain": [-9.76, 280.76], "nice": false, "zero": false},
              "axis": {"title": null, "values": [0, 50, 100, 150, 200, 250]}},
        "y": {"field": "y", "type": "quantitative", "scale": {"domain": [-0.04, 1.04], "nice": false, "zero": false},
              "axis": {"values": [0, 0.2, 0.4, 0.6, 0.8, 1.0], "labels": false, "title": null}}
      },
      "layer": [
        {"data": {"name": "C_WT"}, "mark": {"type": "line", "strokeWidth": 9, "strokeJoin": "round", "strokeCap": "round"},
         "encoding": {"color": {"datum": "WT", "type": "nominal", "scale": {"domain": ["WT", "N155H", "N155H+Q148H"], "range": ["#FF0000", "#00CD00", "#000000"]}}}},
        {"data": {"name": "C_N"}, "mark": {"type": "line", "strokeWidth": 9, "strokeJoin": "round", "strokeCap": "round"},
         "encoding": {"color": {"datum": "N155H", "type": "nominal", "scale": {"domain": ["WT", "N155H", "N155H+Q148H"], "range": ["#FF0000", "#00CD00", "#000000"]}}}},
        {"data": {"name": "C_Q"}, "mark": {"type": "line", "strokeWidth": 9, "strokeJoin": "round", "strokeCap": "round"},
         "encoding": {"color": {"datum": "N155H+Q148H", "type": "nominal", "scale": {"domain": ["WT", "N155H", "N155H+Q148H"], "range": ["#FF0000", "#00CD00", "#000000"]}}}},
        {"data": {"values": [{"x": 8.8, "y": 0.98, "t": "C"}]},
         "mark": {"type": "text", "font": "Liberation Sans", "fontWeight": "bold", "fontSize": 44, "align": "center", "baseline": "middle", "color": "black"},
         "encoding": {"text": {"field": "t"}}}
      ]
    },
    {
      "width": 793, "height": 620,
      "encoding": {
        "x": {"field": "x", "type": "quantitative", "scale": {"domain": [49.52, 278.48], "nice": false, "zero": false},
              "axis": {"values": [50, 100, 150, 200, 250], "title": "Residue index",
                       "titleX": 806, "titleY": 204, "titleBaseline": "alphabetic", "titleAlign": "center", "titleAngle": 0}},
        "y": {"field": "y", "type": "quantitative", "scale": {"domain": [-0.06, 1.56], "nice": false, "zero": false},
              "axis": {"values": [0, 0.5, 1.0, 1.5], "format": ".1f", "title": null}}
      },
      "layer": [
        {"data": {"name": "B_WT"}, "mark": {"type": "line", "strokeWidth": 9, "strokeJoin": "round", "strokeCap": "round"},
         "encoding": {"color": {"datum": "WT", "type": "nominal", "scale": {"domain": ["WT", "N155H", "N155H+Q148H"], "range": ["#FF0000", "#00CD00", "#000000"]}}}},
        {"data": {"name": "B_N"}, "mark": {"type": "line", "strokeWidth": 9, "strokeJoin": "round", "strokeCap": "round"},
         "encoding": {"color": {"datum": "N155H", "type": "nominal", "scale": {"domain": ["WT", "N155H", "N155H+Q148H"], "range": ["#FF0000", "#00CD00", "#000000"]}}}},
        {"data": {"name": "B_Q"}, "mark": {"type": "line", "strokeWidth": 9, "strokeJoin": "round", "strokeCap": "round"},
         "encoding": {"color": {"datum": "N155H+Q148H", "type": "nominal", "scale": {"domain": ["WT", "N155H", "N155H+Q148H"], "range": ["#FF0000", "#00CD00", "#000000"]}}}},
        {"data": {"values": [{"x": 66, "y": 1.467, "t": "B"}]},
         "mark": {"type": "text", "font": "Liberation Sans", "fontWeight": "bold", "fontSize": 44, "align": "center", "baseline": "middle", "color": "black"},
         "encoding": {"text": {"field": "t"}}}
      ]
    },
    {
      "width": 793, "height": 620,
      "encoding": {
        "x": {"field": "x", "type": "quantitative", "scale": {"domain": [49.52, 278.48], "nice": false, "zero": false},
              "axis": {"values": [50, 100, 150, 200, 250], "title": null}},
        "y": {"field": "y", "type": "quantitative", "scale": {"domain": [-0.064, 1.664], "nice": false, "zero": false},
              "axis": {"values": [0, 0.5, 1.0, 1.5], "labels": false, "title": null}}
      },
      "layer": [
        {"data": {"name": "D_WT"}, "mark": {"type": "line", "strokeWidth": 9, "strokeJoin": "round", "strokeCap": "round"},
         "encoding": {"color": {"datum": "WT", "type": "nominal", "scale": {"domain": ["WT", "N155H", "N155H+Q148H"], "range": ["#FF0000", "#00CD00", "#000000"]}}}},
        {"data": {"name": "D_N"}, "mark": {"type": "line", "strokeWidth": 9, "strokeJoin": "round", "strokeCap": "round"},
         "encoding": {"color": {"datum": "N155H", "type": "nominal", "scale": {"domain": ["WT", "N155H", "N155H+Q148H"], "range": ["#FF0000", "#00CD00", "#000000"]}}}},
        {"data": {"name": "D_Q"}, "mark": {"type": "line", "strokeWidth": 9, "strokeJoin": "round", "strokeCap": "round"},
         "encoding": {"color": {"datum": "N155H+Q148H", "type": "nominal", "scale": {"domain": ["WT", "N155H", "N155H+Q148H"], "range": ["#FF0000", "#00CD00", "#000000"]}}}},
        {"data": {"values": [{"x": 63.5, "y": 1.573, "t": "D"}]},
         "mark": {"type": "text", "font": "Liberation Sans", "fontWeight": "bold", "fontSize": 44, "align": "center", "baseline": "middle", "color": "black"},
         "encoding": {"text": {"field": "t"}}}
      ]
    }
  ],
  "resolve": {"scale": {"color": "shared", "x": "independent", "y": "independent"}, "legend": {"color": "shared"}},
  "config": {
    "view": {"stroke": "black", "strokeWidth": 3},
    "axis": {"domain": false, "grid": false, "ticks": true, "tickColor": "black", "tickWidth": 2.5, "tickSize": 30,
             "labelFont": "Liberation Sans", "labelFontSize": 44, "labelColor": "black", "labelFlush": false, "labelOverlap": false,
             "titleFont": "Liberation Sans", "titleFontSize": 60, "titleFontWeight": "normal", "titleColor": "black"},
    "axisX": {"labelBaseline": "alphabetic", "labelPadding": 72, "labelAngle": 0},
    "axisY": {"labelAngle": 270, "labelAlign": "center", "labelBaseline": "alphabetic", "labelPadding": 38}
  }
}
